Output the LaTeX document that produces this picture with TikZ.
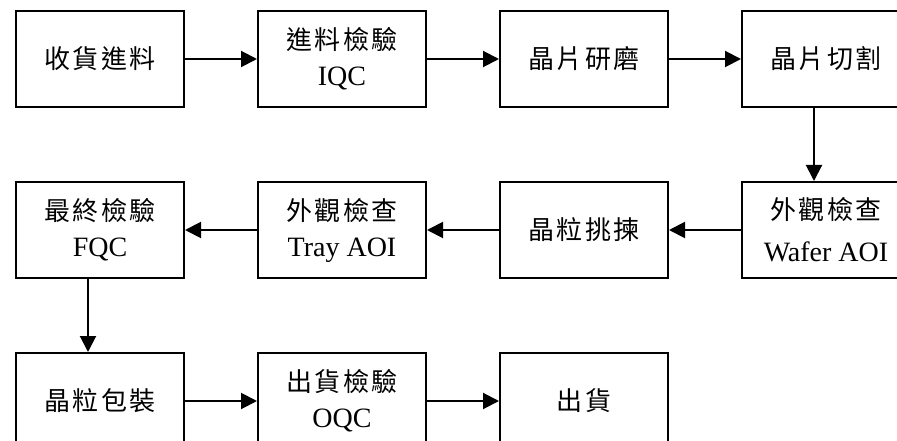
\documentclass[tikz,border=0pt]{standalone}
\usepackage{fontspec}
\setmainfont{Liberation Serif}
\newfontfamily\cjk[LetterSpace=8]{Noto Sans CJK TC}
\newcommand{\zh}[1]{{\cjk\fontsize{26}{36}\selectfont #1}}
\usetikzlibrary{arrows.meta,positioning}

\begin{document}
\begin{tikzpicture}[x=1pt, y=-1pt, node distance=73pt and 72pt,
    stepbox/.style={draw, line width=2pt, minimum width=168pt, minimum height=96pt,
      inner sep=0pt, align=center, font=\fontsize{28}{36}\selectfont},
    flow/.style={line width=2pt, -{Triangle[length=16pt,width=16pt]}}]
    \useasboundingbox (0,0) rectangle (897,441);
    \clip (0,0) rectangle (897,441);
    % first row
    \node[stepbox] (recv) at (100,59) {\zh{收貨進料}};
    \node[stepbox, right=of recv] (iqc) {\zh{進料檢驗}\\IQC};
    \node[stepbox, right=of iqc] (grind) {\zh{晶片研磨}};
    \node[stepbox, right=of grind] (cut) {\zh{晶片切割}};
    % second row
    \node[stepbox, below=of cut] (wafer) {\zh{外觀檢查}\\[6pt]Wafer AOI\hspace{6pt}};
    \node[stepbox, left=of wafer] (sort) {\zh{晶粒挑揀}};
    \node[stepbox, left=of sort] (tray) {\zh{外觀檢查}\\Tray AOI};
    \node[stepbox, left=of tray] (fqc) {\zh{最終檢驗}\\FQC};
    % third row
    \node[stepbox, below=of fqc] (pack) {\zh{晶粒包裝}};
    \node[stepbox, right=of pack] (oqc) {\zh{出貨檢驗}\\OQC};
    \node[stepbox, right=of oqc] (ship) {\zh{出貨}};
    % arrows
    \draw[flow] (recv) -- (iqc);
    \draw[flow] (iqc) -- (grind);
    \draw[flow] (grind) -- (cut);
    \draw[flow] ([xshift=-12pt]cut.south) -- ([xshift=-12pt]wafer.north);
    \draw[flow] (wafer) -- (sort);
    \draw[flow] (sort) -- (tray);
    \draw[flow] (tray) -- (fqc);
    \draw[flow] ([xshift=-12pt]fqc.south) -- ([xshift=-12pt]pack.north);
    \draw[flow] (pack) -- (oqc);
    \draw[flow] (oqc) -- (ship);
\end{tikzpicture}
\end{document}
